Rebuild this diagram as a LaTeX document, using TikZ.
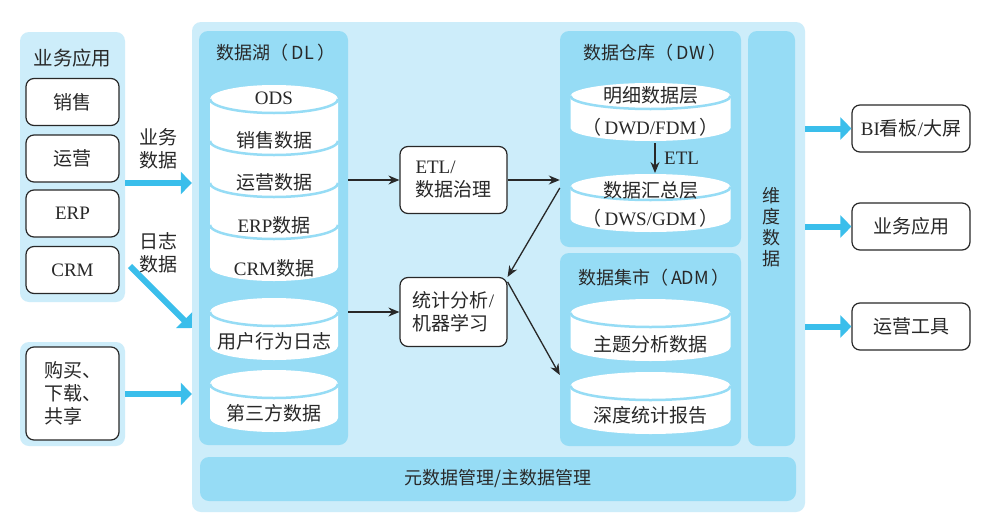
\documentclass[tikz,border=0pt]{standalone}
\usepackage{fontspec}
\setmainfont{Liberation Serif}
\newfontfamily\cjk{Noto Sans CJK SC}
\usetikzlibrary{arrows.meta}
\newcommand\zh[1]{{\cjk #1}}
\newcommand\fsbody{\fontsize{19pt}{23pt}\selectfont}
\newcommand\fstitle{\fontsize{18pt}{21pt}\selectfont}
\definecolor{lightc}{RGB}{205,237,250}
\definecolor{midc}{RGB}{150,220,245}
\definecolor{arrowc}{RGB}{58,190,235}
\definecolor{textc}{RGB}{40,40,40}
\newcommand\mycyl[6]{%
  \fill[white] (#1-#3,#2) -- (#1-#3,#2+#5*#6)
     arc[start angle=180,end angle=360,x radius=#3pt,y radius=#4pt]
     -- (#1+#3,#2)
     arc[start angle=0,end angle=180,x radius=#3pt,y radius=#4pt] -- cycle;
  \pgfmathtruncatemacro\lastk{#5-1}%
  \foreach \k in {0,...,\lastk}
    \draw[sepline] (#1-#3,#2+\k*#6) arc[start angle=180,end angle=360,x radius=#3pt,y radius=#4pt];
}
\begin{document}
\begin{tikzpicture}[x=1pt,y=-1pt,
  panel/.style={fill=#1, rounded corners=9pt, inner sep=0pt, draw=none},
  wbox/.style={draw=textc, line width=1.2pt, fill=white, rounded corners=8pt, inner sep=0pt, text=textc, font=\fsbody},
  txt/.style={text=textc, font=\fsbody, inner sep=0pt, align=center},
  ttl/.style={text=textc, font=\fstitle\cjk, inner sep=0pt},
  sepline/.style={draw=midc, line width=2.5pt},
  bluearr/.style={draw=arrowc, line width=6pt, -{Triangle[length=11pt,width=22pt]}},
  blackarr/.style={draw=textc, line width=1.3pt, -{Stealth[length=11pt,width=9pt]}}]
\fill[white] (0,0) rectangle (988,525);
\useasboundingbox (0,0) rectangle (988,525);
% panels
\node[panel=lightc, minimum width=613pt, minimum height=490pt] (outer) at (498.5,267) {};
\node[panel=lightc, minimum width=105pt, minimum height=270pt] (lp) at (72.5,167) {};
\node[panel=lightc, minimum width=105pt, minimum height=104pt] (bp) at (72.5,394) {};
\node[panel=midc, minimum width=149pt, minimum height=414pt] (dl) at (273.5,238) {};
\node[panel=midc, minimum width=181pt, minimum height=216pt] (dw) at (650.5,139) {};
\node[panel=midc, minimum width=181pt, minimum height=193pt] (adm) at (650.5,349.5) {};
\node[panel=midc, minimum width=47pt, minimum height=415pt] (dim) at (771.5,238.5) {};
\node[panel=midc, minimum width=596pt, minimum height=44pt, text=textc, font=\fstitle\cjk] (meta) at (498,479) {元数据管理/主数据管理};
% titles
\node[ttl, font=\fontsize{19.5pt}{22pt}\selectfont\cjk] (lpt) at (72.5,58) {业务应用};
\node[ttl] (dlt) at (276,53) {数据湖（\,DL\,）};
\node[ttl] (dwt) at (655,53) {数据仓库（\,DW\,）};
\node[ttl] (admt) at (654,278) {数据集市（\,ADM\,）};
\node[ttl, align=center] (dimt) at (771.5,227) {维\\度\\数\\据};
% left boxes
\node[wbox, minimum width=93pt, minimum height=47pt] (b1) at (72.5,102) {\zh{销售}};
\node[wbox, minimum width=93pt, minimum height=47pt] (b2) at (72.5,158.5) {\zh{运营}};
\node[wbox, minimum width=93pt, minimum height=47pt] (b3) at (72.5,213.5) {ERP};
\node[wbox, minimum width=93pt, minimum height=47pt] (b4) at (72.5,270) {CRM};
\node[wbox, minimum width=93pt, minimum height=93pt, align=left] (b5) at (72.5,393.5) {\zh{购买、}\\\zh{下载、}\\\zh{共享}};
\node[txt] (l1) at (158,149) {\zh{业务}\\\zh{数据}};
\node[txt] (l2) at (158,253) {\zh{日志}\\\zh{数据}};
% data lake cylinders
\mycyl{274}{99}{64}{14}{4}{42}
\node[txt] (ods) at (274,98) {ODS};
\node[txt] (s1) at (274,140) {\zh{销售数据}};
\node[txt] (s2) at (274,182) {\zh{运营数据}};
\node[txt] (s3) at (274,225) {ERP\zh{数据}};
\node[txt] (s4) at (274,268) {CRM\zh{数据}};
\mycyl{274}{312}{64}{14}{1}{34}
\node[txt] (ulog) at (274,341) {\zh{用户行为日志}};
\mycyl{274}{384}{64}{14}{1}{34}
\node[txt] (third) at (274,413) {\zh{第三方数据}};
% DW cylinders
\mycyl{650.5}{96}{80}{13}{1}{32}
\node[txt] (dwd1) at (650.5,95) {\zh{明细数据层}};
\node[txt] (dwd2) at (650.5,127) {\zh{（}\,DWD/FDM\,\zh{）}};
\mycyl{650.5}{187}{80}{13}{1}{32}
\node[txt] (dws1) at (650.5,190) {\zh{数据汇总层}};
\node[txt] (dws2) at (650.5,218) {\zh{（}\,DWS/GDM\,\zh{）}};
\coordinate (e1) at (655,143);
\coordinate (e2) at (655,173);
\draw[blackarr] (e1) -- (e2);
\node[txt, anchor=west] (etll) at (664,158) {ETL};
% ADM cylinders
\mycyl{650.5}{313}{80}{14}{1}{34}
\node[txt] (adm1) at (650.5,344) {\zh{主题分析数据}};
\mycyl{650.5}{386}{80}{14}{1}{34}
\node[txt] (adm2) at (650.5,415) {\zh{深度统计报告}};
% middle boxes
\node[wbox, minimum width=107pt, minimum height=67pt, align=left] (etl) at (453.5,180) {ETL/\\\zh{数据治理}};
\node[wbox, minimum width=107pt, minimum height=69pt, align=left] (stat) at (453.5,312) {\zh{统计分析}/\\\zh{机器学习}};
% right boxes
\node[wbox, minimum width=118pt, minimum height=47pt] (r1) at (911,128.5) {BI\zh{看板}/\zh{大屏}};
\node[wbox, minimum width=118pt, minimum height=47pt] (r2) at (911,226.5) {\zh{业务应用}};
\node[wbox, minimum width=118pt, minimum height=47pt] (r3) at (911,326.5) {\zh{运营工具}};
% blue arrows
\coordinate (ya) at (0,183);
\draw[bluearr] (lp.east |- ya) -- (outer.west |- ya);
\coordinate (lg1) at (130,266);
\coordinate (yl) at (0,328);
\draw[bluearr] (lg1) -- (outer.west |- yl);
\draw[bluearr] (bp.east) -- (outer.west |- bp.east);
\draw[bluearr] (outer.east |- r1.west) -- (r1.west);
\draw[bluearr] (outer.east |- r2.west) -- (r2.west);
\draw[bluearr] (outer.east |- r3.west) -- (r3.west);
% black arrows
\draw[blackarr] (dl.east |- etl.west) -- (etl.west);
\draw[blackarr] (etl.east) -- (dw.west |- etl.east);
\coordinate (yd) at (0,188);
\draw[blackarr] (dw.west |- yd) -- (stat.north east);
\draw[blackarr] (dl.east |- stat.west) -- (stat.west);
\coordinate (ye) at (0,375);
\draw[blackarr] ([yshift=-5pt]stat.north east) -- (adm.west |- ye);
\end{tikzpicture}
\end{document}
